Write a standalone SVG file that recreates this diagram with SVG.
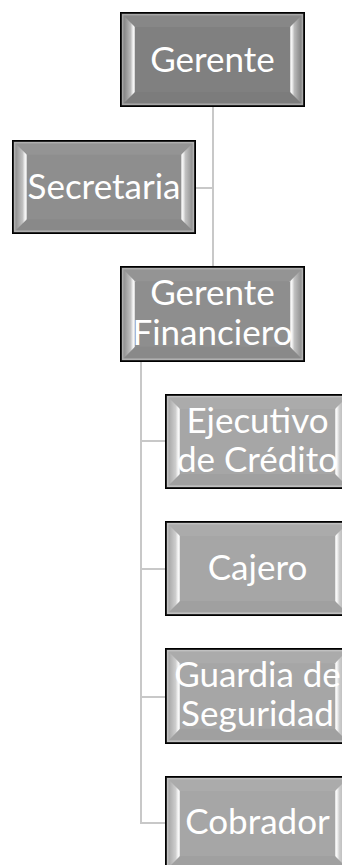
<svg xmlns="http://www.w3.org/2000/svg" width="342" height="865" viewBox="0 0 342 865">
<defs>
<linearGradient id="gl" x1="0" y1="0" x2="1" y2="0">
<stop offset="0" stop-color="#fff" stop-opacity="0.05"/>
<stop offset="0.6" stop-color="#fff" stop-opacity="0.45"/>
<stop offset="0.85" stop-color="#fff" stop-opacity="0.95"/>
<stop offset="1" stop-color="#fff" stop-opacity="0.6"/>
</linearGradient>
<linearGradient id="gr" x1="1" y1="0" x2="0" y2="0">
<stop offset="0" stop-color="#fff" stop-opacity="0.05"/>
<stop offset="0.6" stop-color="#fff" stop-opacity="0.45"/>
<stop offset="0.85" stop-color="#fff" stop-opacity="0.95"/>
<stop offset="1" stop-color="#fff" stop-opacity="0.6"/>
</linearGradient>
<symbol id="bevel" viewBox="0 0 183 93" preserveAspectRatio="none">
<rect x="1.5" y="1.5" width="180" height="90" fill="none" stroke="#fff" stroke-opacity="0.3" stroke-width="2"/>
<polygon points="3,3 14,14 14,79 3,90" fill="url(#gl)"/>
<polygon points="180,3 169,14 169,79 180,90" fill="url(#gr)"/>
<polygon points="3,3 180,3 169,14 14,14" fill="#fff" fill-opacity="0.06"/>
<polygon points="3,90 180,90 169,79 14,79" fill="#000" fill-opacity="0.03"/>
</symbol>
</defs>
<style>
.conn{stroke:#c8c8c8;stroke-width:2;fill:none}
.box{stroke:#000;stroke-width:2}
.t{font-family:Lato,"Open Sans",sans-serif;font-size:35px;fill:#fff;text-anchor:middle}
.c1{fill:#808080}
.c2{fill:#8e8e8e}
.c3{fill:#a6a6a6}
</style>
<g id="connectors">
<path class="conn" d="M213,106 V267"/>
<path class="conn" d="M195,188 H213"/>
<path class="conn" d="M141,361 V823 H166"/>
<path class="conn" d="M141,441 H166"/>
<path class="conn" d="M141,569 H166"/>
<path class="conn" d="M141,697 H166"/>
</g>
<g id="gerente">
<rect class="box c1" x="121" y="13" width="183" height="93"/>
<use href="#bevel" x="121" y="13" width="183" height="93"/>
<text class="t" x="212.5" y="72">Gerente</text>
</g>
<g id="secretaria">
<rect class="box c2" x="13" y="141" width="182" height="92"/>
<use href="#bevel" x="13" y="141" width="182" height="92"/>
<text class="t" x="104" y="199">Secretaria</text>
</g>
<g id="gerente-financiero">
<rect class="box c2" x="121" y="267" width="183" height="94"/>
<use href="#bevel" x="121" y="267" width="183" height="94"/>
<text class="t" x="212.5" y="305">Gerente</text>
<text class="t" x="212.5" y="345">Financiero</text>
</g>
<g id="ejecutivo">
<rect class="box c3" x="166" y="395" width="183" height="93"/>
<use href="#bevel" x="166" y="395" width="183" height="93"/>
<text class="t" x="257.5" y="433">Ejecutivo</text>
<text class="t" x="257.5" y="472">de Crédito</text>
</g>
<g id="cajero">
<rect class="box c3" x="166" y="522" width="183" height="93"/>
<use href="#bevel" x="166" y="522" width="183" height="93"/>
<text class="t" x="257.5" y="580">Cajero</text>
</g>
<g id="guardia">
<rect class="box c3" x="166" y="649" width="183" height="94"/>
<use href="#bevel" x="166" y="649" width="183" height="94"/>
<text class="t" x="257.5" y="687">Guardia de</text>
<text class="t" x="257.5" y="726">Seguridad</text>
</g>
<g id="cobrador">
<rect class="box c3" x="166" y="777" width="183" height="93"/>
<use href="#bevel" x="166" y="777" width="183" height="93"/>
<text class="t" x="257.5" y="834">Cobrador</text>
</g>
</svg>
